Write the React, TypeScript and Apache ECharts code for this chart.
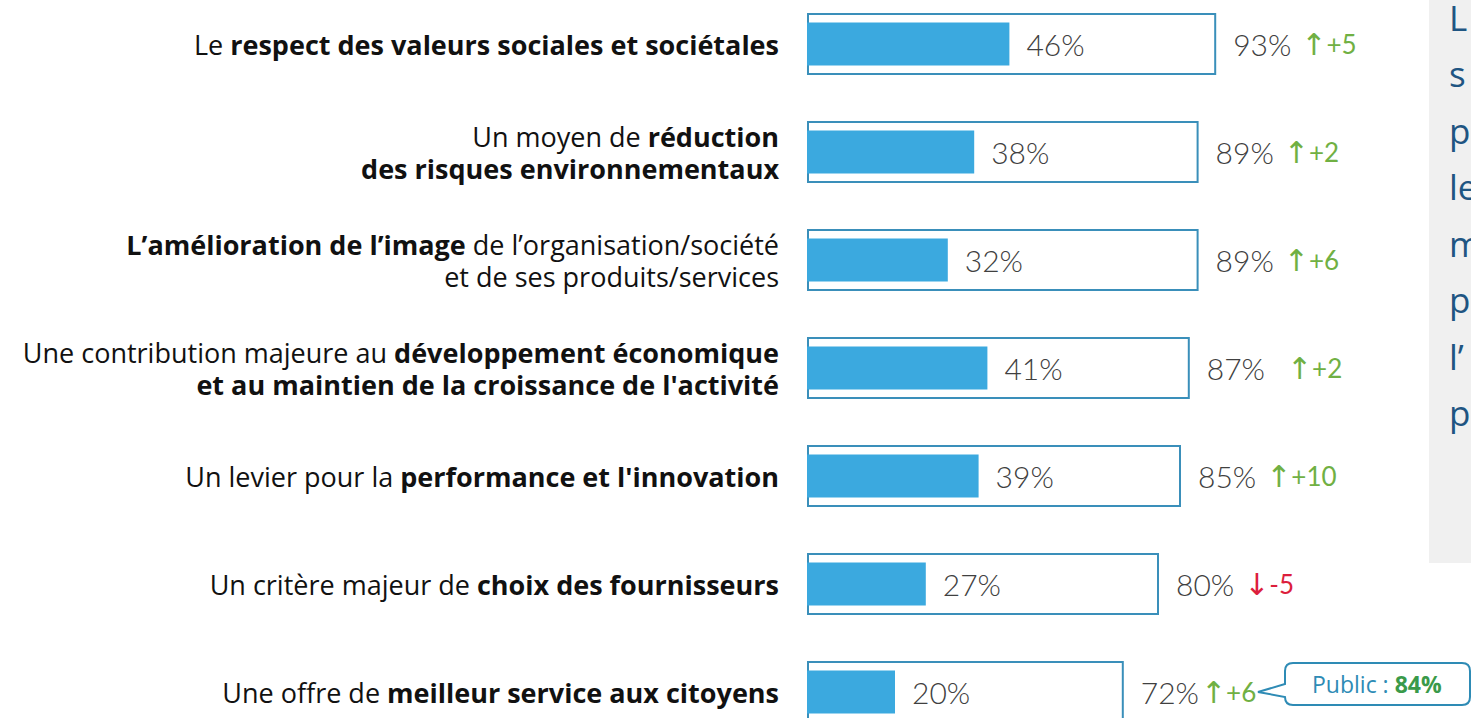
import React, { useEffect, useRef } from "react";
import * as echarts from "echarts";

const categories = [
  "{n|Le }{b|respect des valeurs sociales et sociétales}",
  "{n|Un moyen de }{b|réduction}\n{b|des risques environnementaux}",
  "{b|L’amélioration de l’image}{n| de l’organisation/société}\n{n|et de ses produits/services}",
  "{n|Une contribution majeure au }{b|développement économique}\n{b|et au maintien de la croissance de l'activité}",
  "{n|Un levier pour la }{b|performance et l'innovation}",
  "{n|Un critère majeur de }{b|choix des fournisseurs}",
  "{n|Une offre de }{b|meilleur service aux citoyens}",
];
const firstValues = [46, 38, 32, 41, 39, 27, 20];
const totalValues = [93, 89, 89, 87, 85, 80, 72];
const deltas = [5, 2, 6, 2, 10, -5, 6];
const panelLines = ["L", "s", "p", "le", "m", "p", "l’", "p"];
const calloutLabel = "Public : ";
const calloutValue = "84%";

// chart origin sits 10px above the page top
const OFF = 10;
const calloutPath =
  "M1293 673 H1462 Q1470 673 1470 681 V707 Q1470 715 1462 715 H1293 Q1285 715 1285 707 V707 L1258 702 L1285 694 V681 Q1285 673 1293 673 Z";

export default function App() {
  const ref = useRef<HTMLDivElement>(null);
  useEffect(() => {
    if (!ref.current) return;
    echarts.graphic.registerShape("callout", echarts.graphic.extendPath(calloutPath, {}));
    const chart = echarts.init(ref.current, null, { renderer: "svg" });
    const labelFont = "'Open Sans', 'DejaVu Sans', sans-serif";
    const valueFont = "Lato, 'DejaVu Sans', sans-serif";
    const arrowFont = "'DejaVu Sans', sans-serif";
    const gapStyle = (i: number) => (i === 3 ? "W" : i === firstValues.length - 1 ? "T" : "");
    const arrowStyles: any = {};
    (["up", "down"] as const).forEach((k) => {
      const color = k === "up" ? "#70B043" : "#DC1E3C";
      arrowStyles[k] = { fontFamily: valueFont, fontSize: 26, color };
      arrowStyles[k + "A"] = { fontFamily: arrowFont, fontSize: 30, color, padding: [0, 0, 0, 10] };
      arrowStyles[k + "AW"] = { fontFamily: arrowFont, fontSize: 30, color, padding: [0, 0, 0, 22] };
      arrowStyles[k + "AT"] = { fontFamily: arrowFont, fontSize: 30, color, padding: [0, 0, 0, 2] };
    });
    chart.setOption({
      animation: false,
      grid: { left: 807, width: 440, top: 0, height: 756 },
      xAxis: { type: "value", min: 0, max: 100, show: false },
      yAxis: [
        {
          type: "category",
          inverse: true,
          data: categories,
          axisLine: { show: false },
          axisTick: { show: false },
          axisLabel: {
            margin: 28,
            align: "right",
            lineHeight: 32,
            rich: {
              n: { fontFamily: labelFont, fontSize: 27, color: "#111", align: "right", lineHeight: 32 },
              b: { fontFamily: labelFont, fontSize: 27, fontWeight: "bold", color: "#111", align: "right", lineHeight: 32 },
            },
          },
        },
        {
          type: "category",
          inverse: true,
          data: categories,
          show: false,
        },
      ],
      series: [
        {
          type: "bar",
          yAxisIndex: 0,
          data: totalValues,
          barWidth: 62,
          itemStyle: { color: "#ffffff", borderColor: "#3A8FBA", borderWidth: 2 },
          label: {
            show: true,
            position: "right",
            distance: 17,
            formatter: (p: any) => {
              const d = deltas[p.dataIndex];
              const s = d >= 0 ? "up" : "down";
              const arrow = d >= 0 ? "↑" : "↓";
              const txt = d >= 0 ? "+" + d : String(d);
              return `{v|${p.value}%}{${s}A${gapStyle(p.dataIndex)}|${arrow}}{${s}|${txt}}`;
            },
            rich: {
              v: { fontFamily: valueFont, fontWeight: 300, fontSize: 30, color: "#404040" },
              ...arrowStyles,
            },
          },
          z: 2,
        },
        {
          type: "bar",
          yAxisIndex: 1,
          data: firstValues,
          barWidth: 43,
          itemStyle: { color: "#3BA9DF" },
          label: {
            show: true,
            position: "right",
            distance: 17,
            formatter: "{c}%",
            fontFamily: valueFont,
            fontWeight: 300,
            fontSize: 30,
            color: "#404040",
          },
          z: 3,
        },
      ],
      graphic: [
        {
          type: "rect",
          shape: { x: 1429, y: 0, width: 60, height: 563 + OFF },
          style: { fill: "#F0F0F0" },
          silent: true,
        },
        {
          type: "text",
          x: 1449,
          y: -11 + OFF,
          style: {
            text: panelLines.join("\n"),
            fontFamily: "'Open Sans', sans-serif",
            fontSize: 35,
            lineHeight: 56.5,
            fill: "#1F5582",
            textVerticalAlign: "top",
          },
          silent: true,
        },
        {
          type: "callout",
          x: 0,
          y: 0,
          style: { fill: "#ffffff", stroke: "#2E8BB5", lineWidth: 2 },
          silent: true,
        },
        {
          type: "text",
          x: 1312,
          y: 684 + OFF,
          style: {
            text: `{a|${calloutLabel}}{b|${calloutValue}}`,
            verticalAlign: "middle",
            rich: {
              a: { fontFamily: "'Open Sans', sans-serif", fontSize: 23, color: "#2E8BB5", fill: "#2E8BB5" },
              b: { fontFamily: "'Open Sans', sans-serif", fontSize: 23, fontWeight: "bold", color: "#3A9A4A", fill: "#3A9A4A" },
            },
          },
          silent: true,
        },
      ],
    });
    return () => chart.dispose();
  }, []);
  return (
    <div
      ref={ref}
      style={{ position: "fixed", left: 0, top: -OFF, width: 1471, height: 780, background: "#fff" }}
    />
  );
}
